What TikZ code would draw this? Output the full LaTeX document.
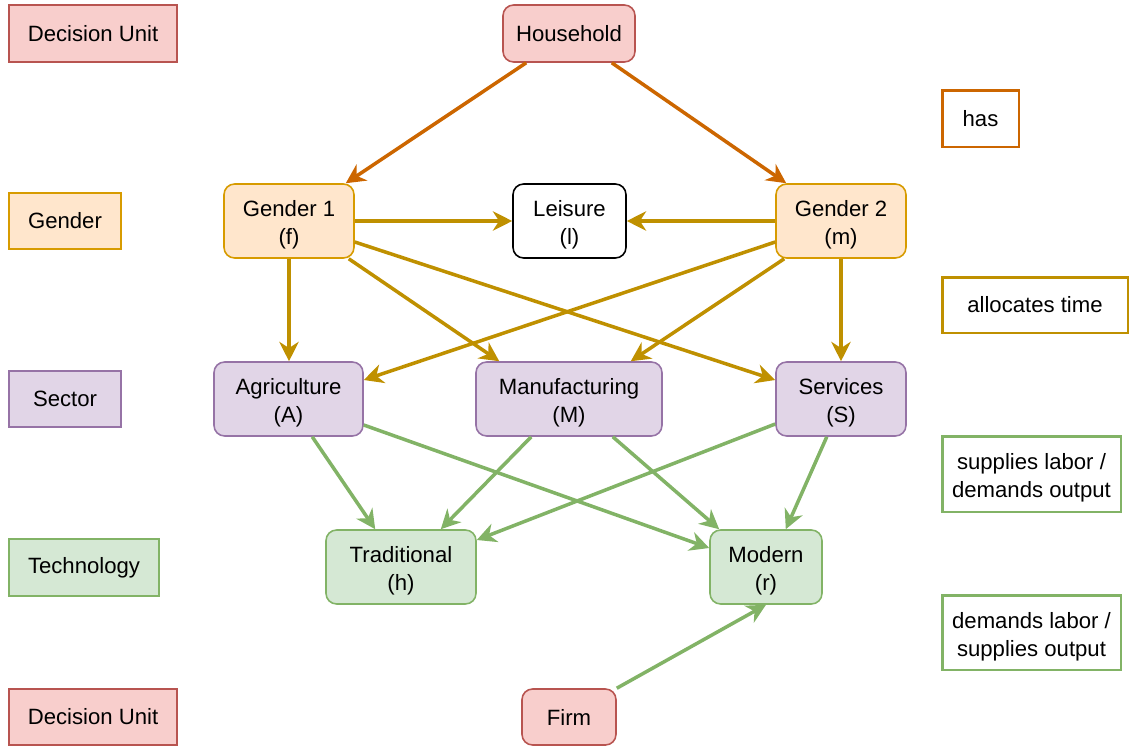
\documentclass[tikz,border=0pt]{standalone}
\usepackage{fontspec}
\setmainfont{Liberation Sans}
\usetikzlibrary{arrows.meta,positioning,calc}
\definecolor{redfill}{HTML}{F8CECC}
\definecolor{redline}{HTML}{B85450}
\definecolor{orangefill}{HTML}{FFE6CC}
\definecolor{orangeline}{HTML}{D79B00}
\definecolor{purplefill}{HTML}{E1D5E7}
\definecolor{purpleline}{HTML}{9673A6}
\definecolor{greenfill}{HTML}{D5E8D4}
\definecolor{greenline}{HTML}{82B366}
\definecolor{hascol}{HTML}{CC6600}
\definecolor{timecol}{HTML}{BF9000}
\newcommand{\topgap}{\rule{0pt}{13.7pt}}
\tikzset{
  tip/.style={-{Stealth[length=11pt,width=11pt,inset=3.5pt]},line width=2pt},
  hasflow/.style={tip,draw=hascol},
  timeflow/.style={tip,draw=timecol},
  laborflow/.style={tip,draw=greenline},
  box/.style={draw,line width=0.9pt,align=center,inner sep=0pt,
              minimum height=1.48cm,rounded corners=6pt},
  tag/.style={box,rounded corners=0pt,minimum height=1.13cm},
  legend/.style={draw,line width=1.7pt,fill=white,align=center,inner sep=0pt},
  redbox/.style={draw=redline,fill=redfill},
  orangebox/.style={draw=orangeline,fill=orangefill},
  purplebox/.style={draw=purpleline,fill=purplefill},
  greenbox/.style={draw=greenline,fill=greenfill}
}

\begin{document}
\begin{tikzpicture}[x=0.02cm,y=-0.02cm,font=\fontsize{12.6}{16}\selectfont]
  \useasboundingbox (0,0) rectangle (1129,747);

  % row labels
  \node[tag,redbox,minimum width=3.36cm] (unittop) at (93,33.5) {Decision Unit};
  \node[tag,orangebox,minimum width=2.24cm] (gendertag) at (65,221) {Gender};
  \node[tag,purplebox,minimum width=2.24cm] (sectortag) at (65,399) {Sector};
  \node[tag,greenbox,minimum width=3cm] (techtag) at (84,567.5) {Technology};
  \node[tag,redbox,minimum width=3.36cm] (unitbot) at (93,717) {Decision Unit};

  % agents and activities
  \node[box,redbox,minimum width=2.64cm,minimum height=1.14cm] (household) at (569,33.5) {Household};
  \node[box,orangebox,minimum width=2.6cm] (gender1) at (289,221) {\topgap Gender 1\\(f)};
  \node[box,draw=black,fill=white,minimum width=2.26cm] (leisure) at (569.5,221) {\topgap Leisure\\(l)};
  \node[box,orangebox,minimum width=2.6cm] (gender2) at (841,221) {\topgap Gender 2\\(m)};
  \node[box,purplebox,minimum width=2.98cm] (agri) at (288.5,399) {\topgap Agriculture\\(A)};
  \node[box,purplebox,minimum width=3.72cm] (manuf) at (569,399) {\topgap Manufacturing\\(M)};
  \node[box,purplebox,minimum width=2.6cm] (services) at (841,399) {\topgap Services\\(S)};
  \node[box,greenbox,minimum width=3cm] (trad) at (401,567) {\topgap Traditional\\(h)};
  \node[box,greenbox,minimum width=2.24cm] (modern) at (766,567) {\topgap Modern\\(r)};
  \node[box,redbox,minimum width=1.88cm,minimum height=1.12cm] (firm) at (569,717) {Firm};

  % legend
  \node[legend,draw=hascol,minimum width=1.54cm,minimum height=1.14cm] (haskey) at (980.5,118.5) {has};
  \node[legend,draw=timecol,minimum width=3.72cm,minimum height=1.12cm] (timekey) at (1035,305) {allocates time};
  \node[legend,draw=greenline,minimum width=3.58cm,minimum height=1.52cm] (supplykey) at (1031.5,474) {\topgap supplies labor /\\demands output};
  \node[legend,draw=greenline,minimum width=3.58cm,minimum height=1.5cm] (demandkey) at (1031.5,632.5) {\topgap demands labor /\\supplies output};

  % household has genders
  \draw[hasflow] ($(household.south west)+(24,0)$) -- ($(gender1.north east)+(-9,0)$);
  \draw[hasflow] ($(household.south east)+(-24,0)$) -- ($(gender2.north west)+(11,0)$);

  % time allocation
  \draw[timeflow] (gender1) -- (leisure);
  \draw[timeflow] (gender2) -- (leisure);
  \draw[timeflow] (gender1.south) -- (gender1.south |- agri.north);
  \draw[timeflow] ($(gender1.south east)+(-6,0)$) -- ($(manuf.north west)+(24,0)$);
  \draw[timeflow] ($(gender1.east)+(0,21)$) -- ($(services.west)+(0,-19)$);
  \draw[timeflow] ($(gender2.west)+(0,21)$) -- ($(agri.east)+(0,-19)$);
  \draw[timeflow] ($(gender2.south west)+(9,0)$) -- ($(manuf.north east)+(-32,0)$);
  \draw[timeflow] (gender2.south) -- (gender2.south |- services.north);

  % labor and output
  \draw[laborflow] ($(agri.south west)+(99,0)$) -- ($(trad.north west)+(50,0)$);
  \draw[laborflow] ($(agri.east)+(0,26)$) -- ($(modern.west)+(0,-19)$);
  \draw[laborflow] ($(manuf.south west)+(56,0)$) -- ($(trad.north east)+(-36,0)$);
  \draw[laborflow] ($(manuf.south east)+(-50,0)$) -- ($(modern.north west)+(10,0)$);
  \draw[laborflow] ($(services.west)+(0,25)$) -- ($(trad.east)+(0,-27)$);
  \draw[laborflow] ($(services.south east)+(-80,0)$) -- ($(modern.north east)+(-37,0)$);
  \draw[laborflow] (firm.north east) -- (modern.south);
\end{tikzpicture}
\end{document}
